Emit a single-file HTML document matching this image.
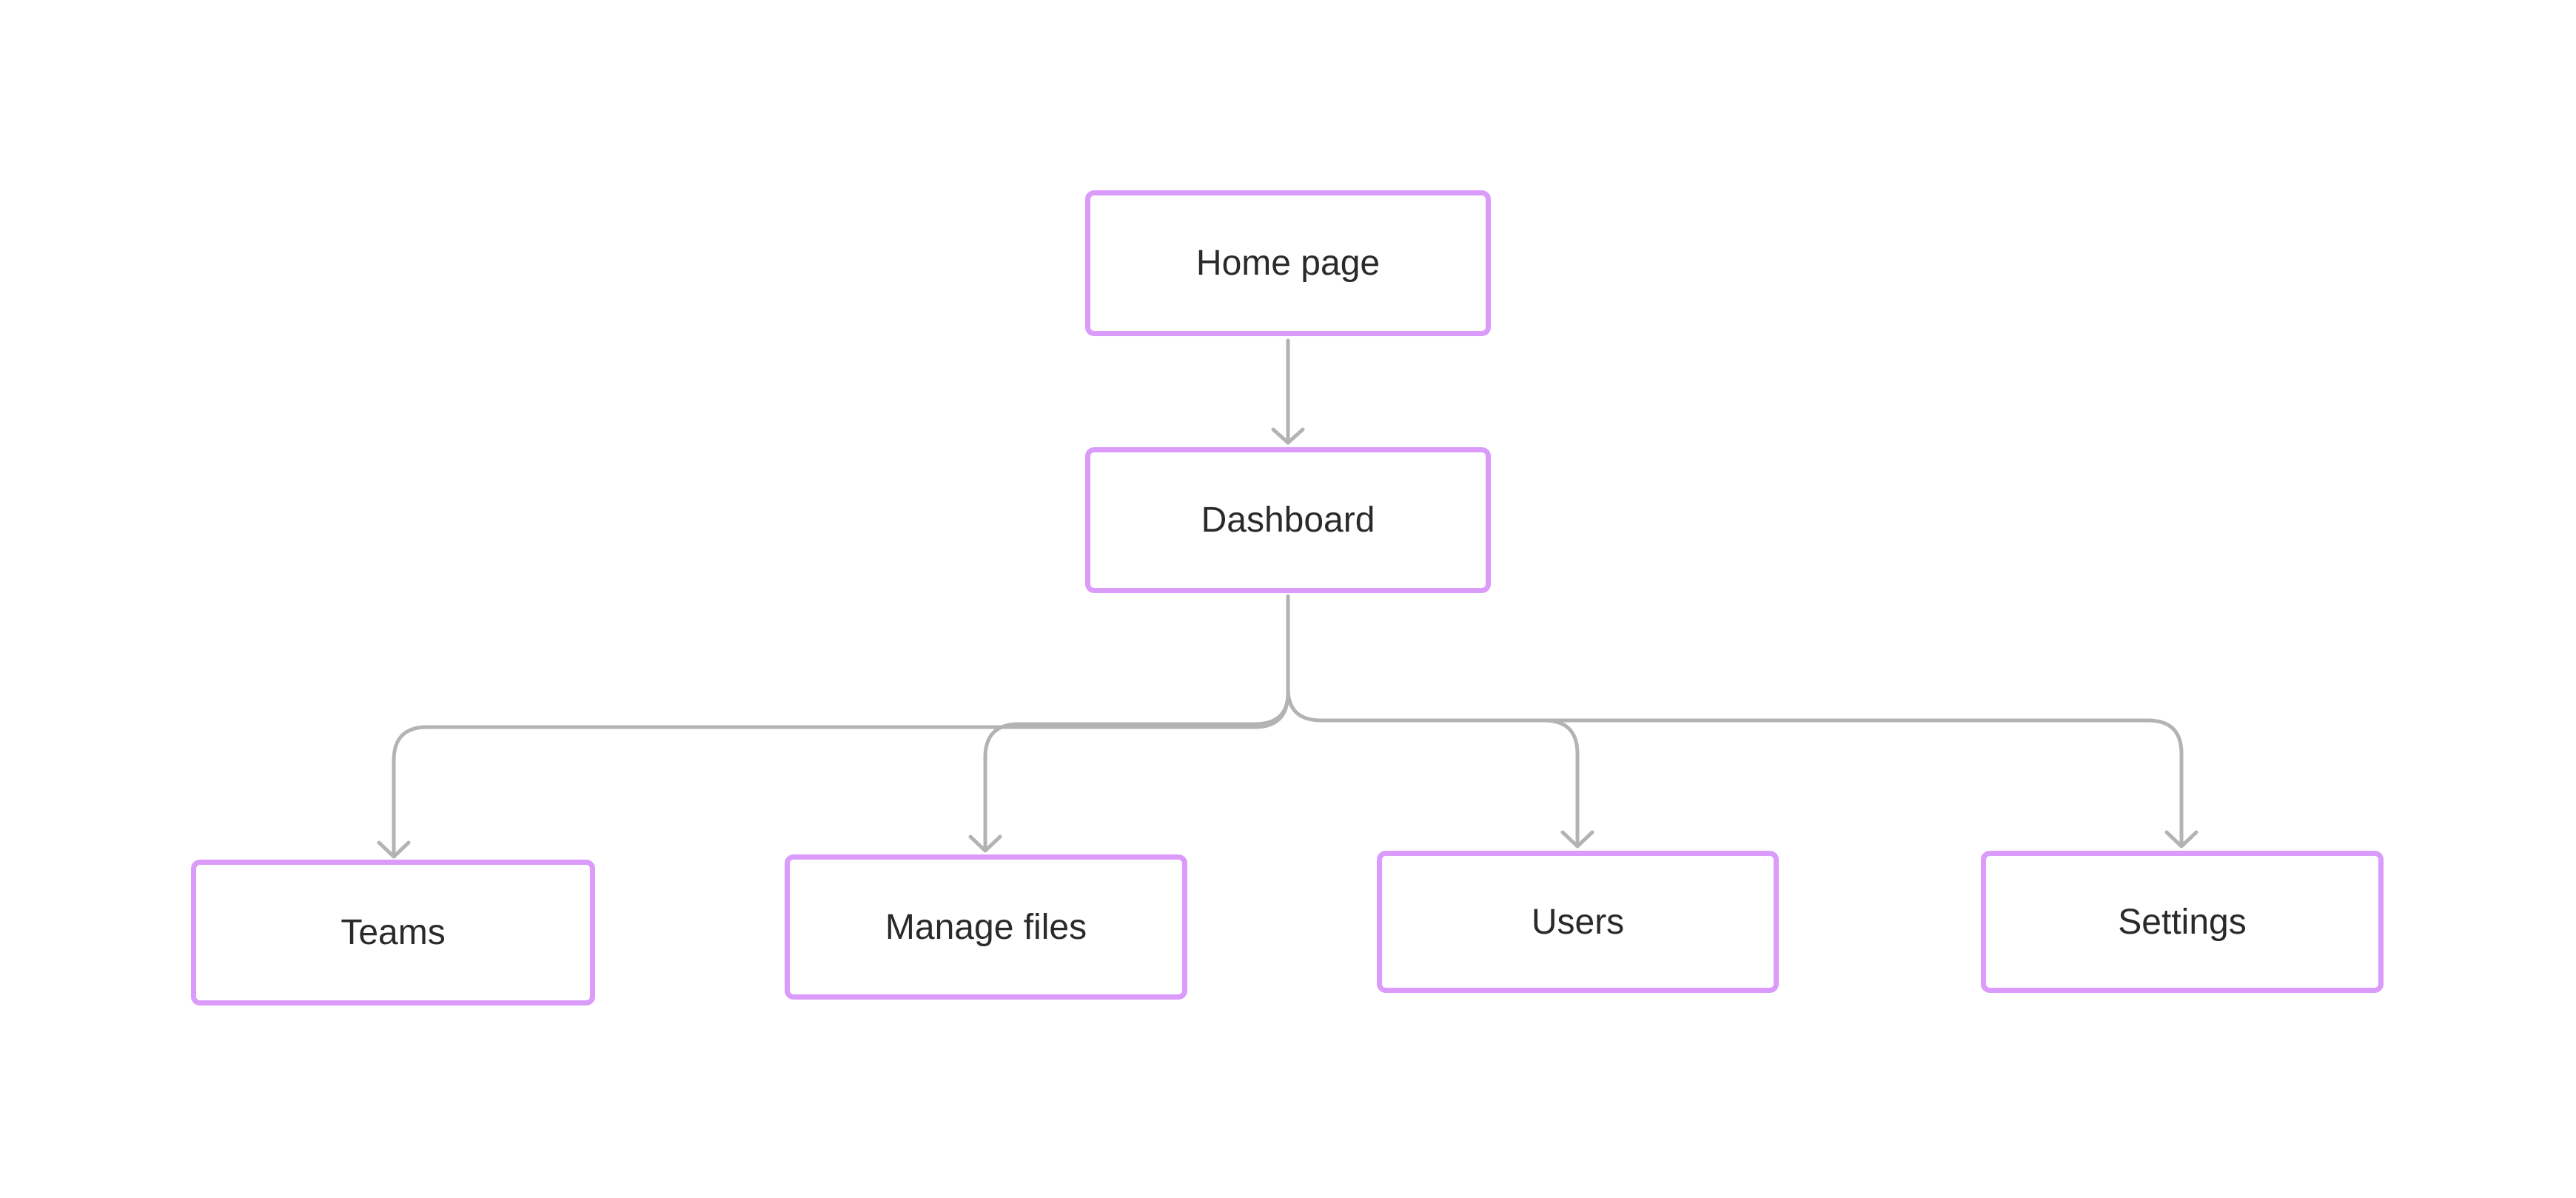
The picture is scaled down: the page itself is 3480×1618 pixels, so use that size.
<!DOCTYPE html>
<html><head><meta charset="utf-8"><style>
html,body{margin:0;padding:0;background:#fff;}
body{width:3480px;height:1618px;position:relative;overflow:hidden;font-family:"Liberation Sans",sans-serif;}
.b{position:absolute;box-sizing:border-box;border:7px solid #da9bfa;border-radius:12px;background:#fff;display:flex;align-items:center;justify-content:center;font-size:48px;color:#2a2a2a;}
svg{position:absolute;left:0;top:0;}
</style></head><body>
<svg width="3480" height="1618" fill="none" stroke="#b3b3b3" stroke-width="5" stroke-linecap="round" stroke-linejoin="round">
<path d="M1740 460 V598"/>
<path d="M1720 580 L1740 598 L1760 580"/>
<path d="M1740 805 V936 Q1740 982 1695 982 H577 Q532 982 532 1027 V1156"/>
<path d="M1740 805 V936 Q1740 978 1695 978 H1376 Q1331 978 1331 1023 V1148"/>
<path d="M1740 805 V930 Q1740 973 1785 973 H2086 Q2131 973 2131 1018 V1143"/>
<path d="M2086 973 H2902 Q2947 973 2947 1018 V1143"/>
<path d="M512 1138 L532 1157 L552 1138"/>
<path d="M1311 1130 L1331 1149 L1351 1130"/>
<path d="M2111 1124 L2131 1143 L2151 1124"/>
<path d="M2927 1124 L2947 1143 L2967 1124"/>
</svg>
<div class="b" style="left:1466px;top:257px;width:548px;height:197px;">Home page</div>
<div class="b" style="left:1466px;top:604px;width:548px;height:197px;">Dashboard</div>
<div class="b" style="left:258px;top:1161px;width:546px;height:197px;">Teams</div>
<div class="b" style="left:1060px;top:1154px;width:544px;height:196px;">Manage files</div>
<div class="b" style="left:1860px;top:1149px;width:543px;height:192px;">Users</div>
<div class="b" style="left:2676px;top:1149px;width:544px;height:192px;">Settings</div>
</body></html>
